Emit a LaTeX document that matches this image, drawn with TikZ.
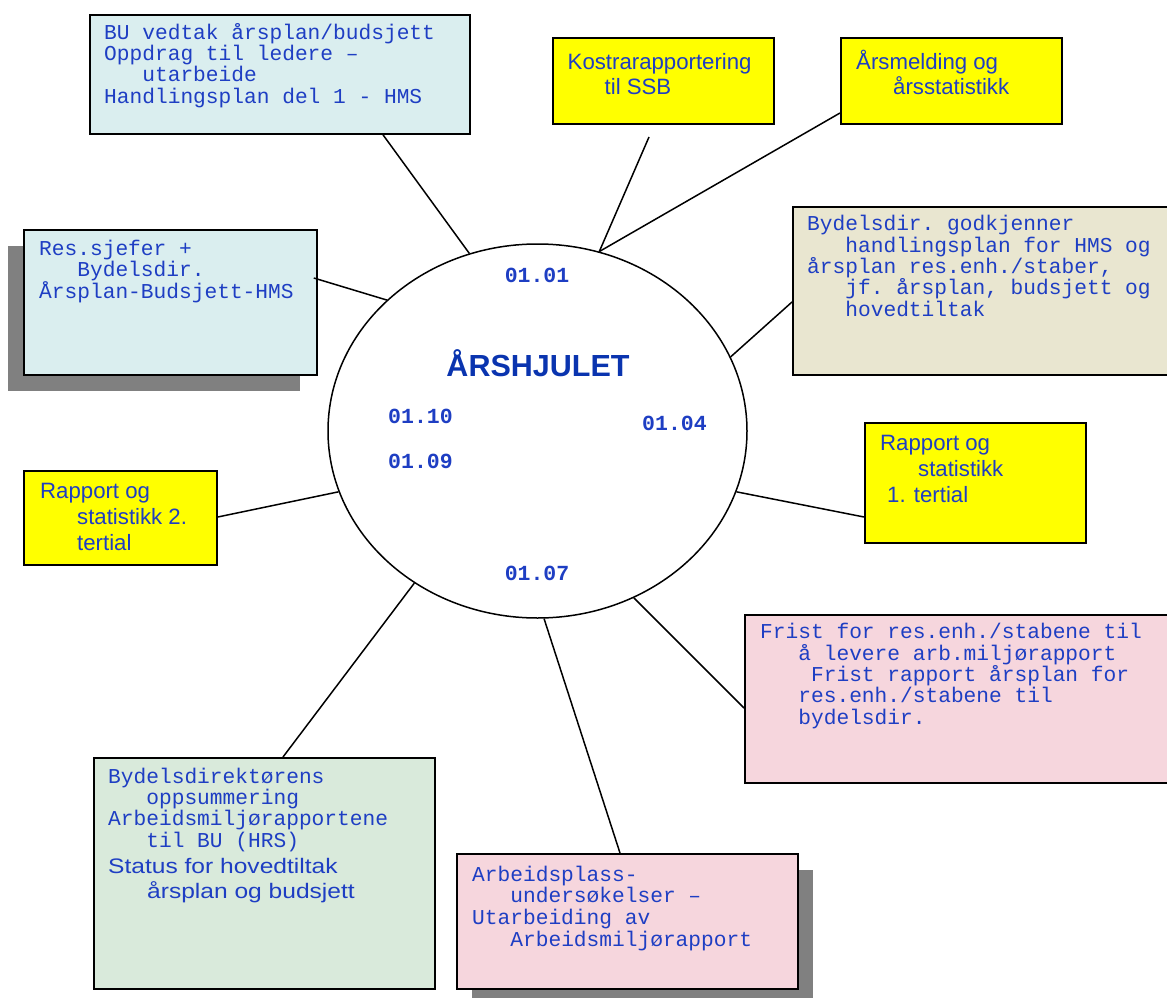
\documentclass[tikz,border=0pt]{standalone}
\usepackage{fontspec}
\setmonofont{Liberation Mono}
\newfontfamily\sansf{Liberation Sans}
\newfontfamily\widesans[FakeStretch=1.17]{Liberation Sans}
\usetikzlibrary{shapes.geometric,calc}
\definecolor{txtblue}{RGB}{30,62,195}
\definecolor{titleblue}{RGB}{10,52,175}
\definecolor{cyanbox}{RGB}{218,238,239}
\definecolor{beigebox}{RGB}{233,230,208}
\definecolor{pinkbox}{RGB}{246,214,221}
\definecolor{greenbox}{RGB}{217,234,219}
\definecolor{yellowbox}{RGB}{255,255,0}
\definecolor{shade}{RGB}{128,128,128}
% indent by a number of monospaced characters
\newcommand\mind[1]{\hspace*{#1\fontcharwd\font`\0}}
% text nodes are placed at the baseline of their last line
\tikzset{
  box/.style={rectangle, draw=black, line width=1.8pt, inner sep=0pt, anchor=north west},
  shadowbox/.style={rectangle, fill=shade, draw=none, inner sep=0pt, anchor=north west},
  mono/.style={font=\ttfamily\fontsize{21.2}{21.3}\selectfont, text=txtblue, align=left, anchor=base west, inner sep=0pt},
  sans/.style={font=\sansf\fontsize{22.2}{25.7}\selectfont, text=txtblue, align=left, anchor=base west, inner sep=0pt},
  datelabel/.style={font=\ttfamily\bfseries\fontsize{21.5}{24}\selectfont, text=txtblue, inner sep=0pt},
  link/.style={draw=black, line width=1.5pt}
}
\begin{document}
\begin{tikzpicture}[x=1pt,y=-1pt]
\useasboundingbox (0,0) rectangle (1167,998);
\fill[white] (0,0) rectangle (1167,998);

% the year wheel
\node[ellipse, draw=black, line width=1.5pt, minimum width=419pt, minimum height=374pt, inner sep=0pt] (wheel) at (537.5,431) {};
\node[anchor=base, font=\sansf\bfseries\fontsize{30.5}{36}\selectfont, text=titleblue, inner sep=0pt] (title) at (538,376) {ÅRSHJULET};
\node[datelabel, anchor=base] (d0101) at (537,282) {01.01};
\node[datelabel, anchor=base west] (d0110) at (388,423) {01.10};
\node[datelabel, anchor=base west] (d0109) at (388,468) {01.09};
\node[datelabel, anchor=base west] (d0104) at (642,430) {01.04};
\node[datelabel, anchor=base] (d0107) at (537,580) {01.07};

% shadows
\node[shadowbox, minimum width=292pt, minimum height=145pt] (s4) at (8,246) {};
\node[shadowbox, minimum width=341pt, minimum height=140pt] (s10) at (472,870) {};

% boxes
\node[box, fill=cyanbox, minimum width=380pt, minimum height=119pt] (b1) at (89,14) {};
\node[box, fill=yellowbox, minimum width=221pt, minimum height=86pt] (b2) at (552,37) {};
\node[box, fill=yellowbox, minimum width=221pt, minimum height=86pt] (b3) at (840,37) {};
\node[box, fill=cyanbox, minimum width=293pt, minimum height=145pt] (b4) at (23,229) {};
\node[box, fill=beigebox, minimum width=390pt, minimum height=168pt] (b5) at (792,206) {};
\node[box, fill=yellowbox, minimum width=221pt, minimum height=120pt] (b6) at (864,422) {};
\node[box, fill=yellowbox, minimum width=193pt, minimum height=94pt] (b7) at (23,470) {};
\node[box, fill=pinkbox, minimum width=440pt, minimum height=168pt] (b8) at (744,614) {};
\node[box, fill=greenbox, minimum width=341pt, minimum height=231pt] (b9) at (93,757) {};
\node[box, fill=pinkbox, minimum width=341pt, minimum height=135pt] (b10) at (456,853) {};

% box texts
\node[mono] (t1) at (104,103) {BU vedtak årsplan/budsjett\\Oppdrag til ledere –\\\mind{3}utarbeide\\Handlingsplan del 1 - HMS};
\node[sans] (t2) at (567.5,95) {Kostrarapportering\\\hspace*{37pt}til SSB};
\node[sans] (t3) at (856,95) {Årsmelding og\\\hspace*{37pt}årsstatistikk};
\node[mono] (t4) at (39,298) {Res.sjefer +\\\mind{3}Bydelsdir.\\Årsplan-Budsjett-HMS};
\node[mono] (t5) at (807,316) {Bydelsdir. godkjenner\\\mind{3}handlingsplan for HMS og\\årsplan res.enh./staber,\\\mind{3}jf. årsplan, budsjett og\\\mind{3}hovedtiltak};
\node[sans] (t6) at (880,502) {Rapport og\\\hspace*{38pt}statistikk\\\hspace*{7pt}1. tertial};
\node[sans] (t7) at (40,550) {Rapport og\\\hspace*{37pt}statistikk 2.\\\hspace*{37pt}tertial};
\node[mono] (t8) at (760,724) {Frist for res.enh./stabene til\\\mind{3}å levere arb.miljørapport\\\mind{4}Frist rapport årsplan for\\\mind{3}res.enh./stabene til\\\mind{3}bydelsdir.};
\node[mono] (t9a) at (108,847) {Bydelsdirektørens\\\mind{3}oppsummering\\Arbeidsmiljørapportene\\\mind{3}til BU (HRS)};
\node[sans, font=\widesans\fontsize{21}{25}\selectfont] (t9b) at (108,898) {Status for hovedtiltak\\\hspace*{39pt}årsplan og budsjett};
\node[mono, font=\ttfamily\fontsize{21.2}{21.6}\selectfont] (t10) at (472,946) {Arbeidsplass-\\\mind{3}undersøkelser –\\Utarbeiding av\\\mind{3}Arbeidsmiljørapport};

% connectors
\coordinate (k1) at (649,137);
\draw[link] ($(b1.south west)+(294,0)$) -- (wheel.111.3);
\draw[link] (k1) -- (wheel.71.6);
\draw[link] ($(b3.north west)+(0,76)$) -- (wheel.71.6);
\draw[link] ($(b4.north east)+(-4,49)$) -- (wheel.139.8);
\draw[link] ($(b5.north west)+(0,96)$) -- (wheel.21.2);
\draw[link] ($(b6.north west)+(0,95)$) -- (wheel.-17);
\draw[link] ($(b7.north east)+(0,47)$) -- (wheel.197.2);
\draw[link] ($(b8.north west)+(0,94)$) -- (wheel.-60.4);
\draw[link] ($(b9.north west)+(190,0)$) -- (wheel.231.4);
\draw[link] ($(b10.north west)+(164,0)$) -- (wheel.-88.3);
\end{tikzpicture}
\end{document}
